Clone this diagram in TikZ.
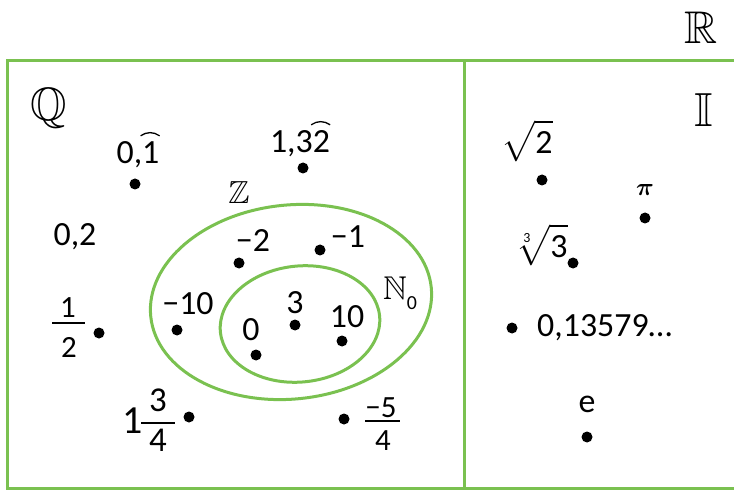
\documentclass[tikz,border=0pt]{standalone}
\usepackage{amsmath}
\usepackage{amssymb}
\usepackage{fontspec}
\setmainfont{Carlito}
\usetikzlibrary{calc}
\definecolor{vgreen}{RGB}{122,193,80}
\newcommand\fsz[1]{\fontsize{#1}{#1}\selectfont}
\begin{document}
\begin{tikzpicture}[x=1bp,y=-1bp,
  frame/.style={draw=vgreen,line width=3bp},
  setline/.style={draw=vgreen,line width=3bp},
  num/.style={inner sep=0pt,font=\fsz{34},anchor=base},
  fnum/.style={inner sep=0pt,font=\fsz{31},anchor=base},
  fbar/.style={line width=1.4bp},
  bb/.style={inner sep=0pt,anchor=base},
  pt/.style={circle,fill=black,inner sep=0pt,minimum size=11bp},
  rep/.style={line width=1.3bp}]
\useasboundingbox (0,0) rectangle (734,491);

% frame
\draw[frame] (745,61) -- (7,61) -- (7,488) -- (745,488);
\draw[frame] (464,61) -- (464,488);

% set ellipses
\coordinate (zc) at (291,302);
\coordinate (nc) at (300,324);
\draw[setline, rotate around={6:(zc)}] (zc) ellipse [x radius=141, y radius=97];
\draw[setline, rotate around={6:(nc)}] (nc) ellipse [x radius=80, y radius=58];

% set labels
\node[bb,font=\fsz{46}] (R) at (701,44) {$\mathbb{R}$};
\node[bb,font=\fsz{47}] (Q) at (49,121) {$\mathbb{Q}$};
\node[bb,font=\fsz{48}] (I) at (704,127) {$\mathbb{I}$};
\node[bb,font=\fsz{32}] (Z) at (239,204) {$\mathbb{Z}$};
\node[bb,font=\fsz{33},anchor=base west] (N) at (383,299) {$\mathbb{N}$\raisebox{-10bp}{\fsz{20}0}};

% rational numbers
\node[num] (r1) at (138,164) {0,1};
\draw[rep] ($(r1.north east)+(-19,-6)$) to[bend left=35] ($(r1.north east)+(0,-6)$);
\node[pt] (d1) at (135,184) {};
\node[num] (r2) at (300,153) {1,32};
\draw[rep] ($(r2.north east)+(-19,-6)$) to[bend left=35] ($(r2.north east)+(0,-6)$);
\node[pt] (d2) at (303,168) {};
\node[num] (r3) at (75,246) {0,2};
% 1/2
\node[fnum] (h1) at (68,317) {1};
\node[fnum] (h2) at (69,357) {2};
\draw[fbar] (52,323) -- (85,323);
\node[pt] (d4) at (99,333) {};
% 1 3/4
\node[bb,font=\fsz{40}] (m0) at (133,433) {1};
\node[bb,font=\fsz{35}] (m1) at (158,411) {3};
\node[bb,font=\fsz{35}] (m2) at (158,451) {4};
\draw[fbar] (141,423) -- (175,423);
\node[pt] (d5) at (189,417) {};
% -5/4
\node[fnum] (k1) at (381,417) {−5};
\node[fnum] (k2) at (383,450) {4};
\draw[fbar] (365,421) -- (400,421);
\node[pt] (d6) at (344,419) {};

% integers
\node[num] (z1) at (253,252) {−2};
\node[pt] (e1) at (239,263) {};
\node[num] (z2) at (348,248) {−1};
\node[pt] (e2) at (320,250) {};
\node[num] (z3) at (188,314) {−10};
\node[pt] (e3) at (177,330) {};

% naturals
\node[num] (n1) at (251,340) {0};
\node[pt] (f1) at (256,355) {};
\node[num] (n2) at (295,313) {3};
\node[pt] (f2) at (295,325) {};
\node[num] (n3) at (347,327) {10};
\node[pt] (f3) at (342,341) {};

% irrationals
\node[num] (i1) at (527,154) {$\sqrt{\mbox{2}}$};
\node[pt] (g1) at (542,180) {};
\node[inner sep=0pt,font=\fsz{28}\boldmath] (i2) at (645,190) {$\pi$};
\node[pt] (g2) at (645,218) {};
\node[num] (i3) at (542,258) {$\sqrt[\mbox{\fsz{14}3}]{\mbox{3}}$};
\node[pt] (g3) at (573,263) {};
\node[pt] (g4) at (512,328) {};
\node[num,anchor=base west] (i4) at (537,336) {0,13579…};
\node[num] (i5) at (587,412) {e};
\node[pt] (g5) at (587,437) {};
\end{tikzpicture}
\end{document}
